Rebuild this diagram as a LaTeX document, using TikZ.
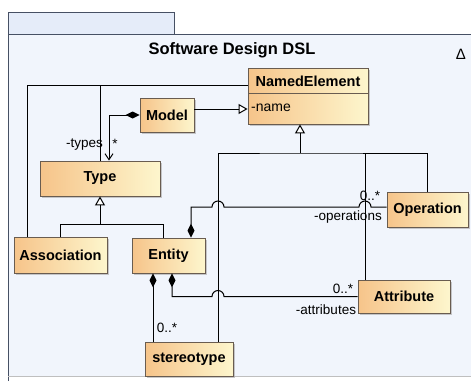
\documentclass[tikz,border=0pt]{standalone}
\usepackage{fontspec}
\setmainfont{Liberation Sans}
\usetikzlibrary{arrows.meta,shadows}
\definecolor{boxor}{RGB}{246,196,138}
\definecolor{boxye}{RGB}{253,246,205}
\definecolor{bgc}{RGB}{241,245,252}
\definecolor{tabc}{RGB}{229,236,249}
\definecolor{frm}{RGB}{70,80,100}
\definecolor{bord}{RGB}{105,92,80}
\begin{document}
\begin{tikzpicture}[x=1pt,y=-1pt,
  cls/.style={draw=bord, line width=0.9pt, left color=boxor, right color=boxye,
    drop shadow={shadow xshift=2pt,shadow yshift=-2pt,fill=black!35,opacity=0.6},
    inner sep=0pt, font=\fontsize{14.5}{16}\selectfont\bfseries},
  nm/.style={inner sep=0pt, font=\fontsize{14.5}{16}\selectfont\bfseries},
  lbl/.style={inner sep=0pt, font=\fontsize{13.5}{15}\selectfont},
  con/.style={line width=1pt, black},
  comp/.style={con, {Diamond[length=14pt,width=7pt]}-},
  compnav/.style={con, {Diamond[length=14pt,width=7pt]}-{Straight Barb[length=6pt,width=8pt]}},
  gen/.style={con, -{Triangle[open,length=9pt,width=10pt,fill=white]}},
]
\useasboundingbox (0,0) rectangle (471,381);
\fill[white] (0,0) rectangle (471,381);
% package frame
\draw[frm, fill=tabc, line width=0.8pt] (8,34) -- (8,12) -- (174,12) -- (174,34);
\fill[bgc] (8,34) rectangle (471,376);
\draw[frm, line width=0.8pt] (8,381) -- (8,34) -- (471,34);
\draw[black!25, line width=0.8pt] (8,376) -- (471,376);
\node[inner sep=0pt, font=\fontsize{16.5}{18}\selectfont\bfseries] (title) at (232,50) {Software Design DSL};
\node[inner sep=0pt, font=\fontsize{15}{17}\selectfont] (tri) at (461,54) {Δ};

% classes
\node[cls, minimum width=120pt, minimum height=56pt] (ne) at (308,96) {};
\draw[bord, line width=0.8pt] (248,93) -- (368,93);
\node[nm] (netitle) at (308,81) {NamedElement};
\node[lbl, font=\fontsize{14}{16}\selectfont, anchor=west] (nename) at (251,108) {-name};

\node[cls, minimum width=54pt, minimum height=34pt] (model) at (167,115) {Model};
\node[cls, minimum width=120pt, minimum height=35pt] (type) at (100,178.5) {Type};
\node[cls, minimum width=93pt, minimum height=36pt] (assoc) at (60.5,255) {Association};
\node[cls, minimum width=73pt, minimum height=35pt] (entity) at (168.5,255.5) {Entity};
\node[cls, minimum width=81pt, minimum height=35pt] (oper) at (427.5,209.5) {Operation};
\node[cls, minimum width=92pt, minimum height=33pt] (attr) at (404,296.5) {Attribute};
\node[cls, minimum width=88pt, minimum height=34pt] (stereo) at (189,359) {stereotype};

% junctions
\coordinate (jt) at (100,85);
\coordinate (gj) at (300,153);
\coordinate (tj) at (100,224);

% generalizations to NamedElement (left side)
\draw[con] ([xshift=-33.5pt]assoc.north) |- ([yshift=11pt]ne.west);
\draw[con] (type.north) -- (jt);
% Model -> NamedElement
\draw[gen] ([yshift=6pt]model.east) -- ([yshift=6pt]model.east -| ne.west);
% Model composition -types
\draw[compnav] (model.west) -| ([xshift=9pt]type.north);
\node[lbl, anchor=east] (ltypes) at (103,145) {-types};
\node[lbl] (lstar) at (115,144) {*};
% Type generalization
\draw[gen] ([xshift=-5.5pt]entity.north) |- (tj) -- (type.south);
\draw[con] (assoc.north) |- (tj);
% NamedElement generalization (right side)
\draw[gen] (gj) -- (gj |- ne.south);
\draw[con] ([xshift=29pt]stereo.north) |- (gj) -| (oper.north);
\draw[con] ([xshift=-39pt]attr.north) -- ([xshift=-39pt]attr.north |- gj);
% Entity -> Operation
\draw[comp] ([xshift=22.5pt]entity.north) |- (212,207)
  arc[start angle=180,end angle=0,radius=6pt] -- (359,207)
  arc[start angle=180,end angle=0,radius=6pt] -- ([yshift=2.5pt]oper.west);
\node[lbl] (lopm) at (370,196) {0..*};
\node[lbl] (lops) at (348,217) {-operations};
% Entity -> Attribute
\draw[comp] ([xshift=3.5pt]entity.south) |- (212,296.5)
  arc[start angle=180,end angle=0,radius=6pt] -- (attr.west);
\node[lbl] (latm) at (343,289) {0..*};
\node[lbl] (lats) at (326,310) {-attributes};
% Entity -> stereotype
\draw[comp] ([xshift=-15.5pt]entity.south) -- ([xshift=-15.5pt]entity.south |- stereo.north);
\node[lbl] (lstm) at (167,328) {0..*};
\end{tikzpicture}
\end{document}
